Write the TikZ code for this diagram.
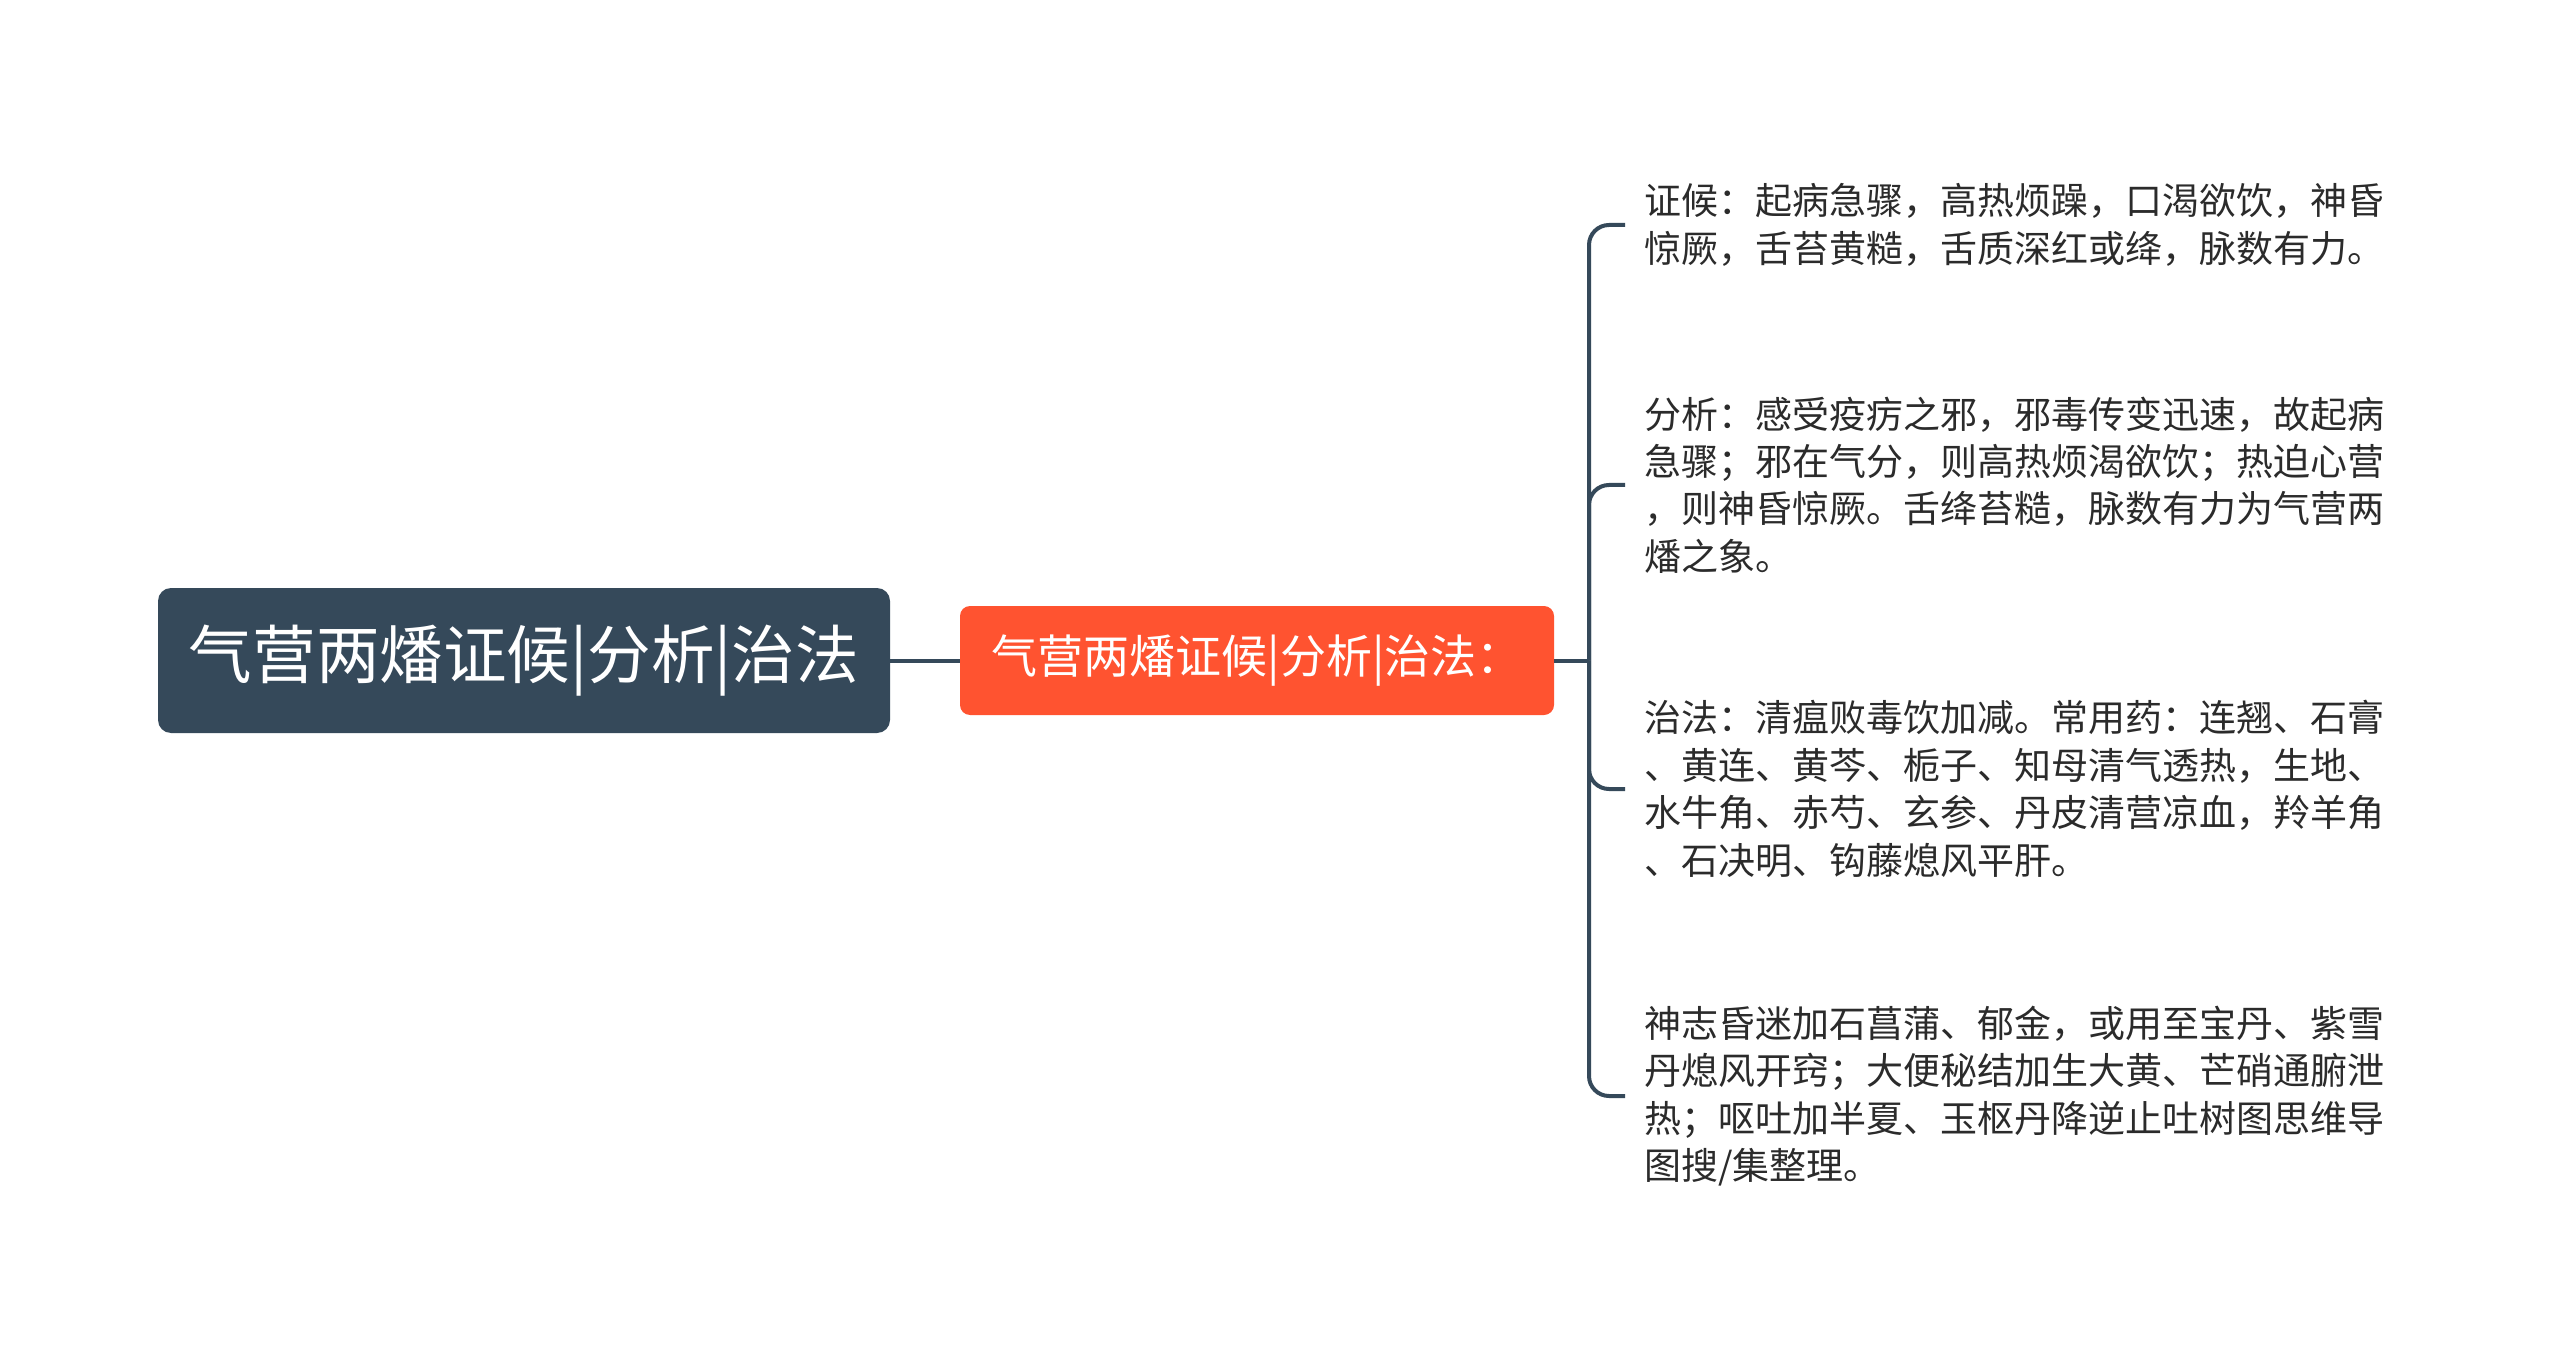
\documentclass[tikz,border=0pt]{standalone}
\usepackage{fontspec}
\setmainfont{Noto Sans CJK SC}
\definecolor{slate}{HTML}{35495A}
\definecolor{orangebox}{HTML}{FF5330}
\definecolor{leaftext}{HTML}{2B2B2B}
\tikzset{
  rootbox/.style={fill=slate, text=white, rounded corners=6.5pt, minimum width=366pt, minimum height=72.5pt, inner sep=0pt, font=\fontsize{31.8pt}{36pt}\selectfont},
  midbox/.style={fill=orangebox, text=white, rounded corners=5pt, minimum width=297pt, minimum height=54.5pt, inner sep=0pt, font=\fontsize{23pt}{26pt}\selectfont},
  leafbox/.style={anchor=west, align=left, inner xsep=9.5pt, inner ysep=0pt, text=leaftext, font=\fontsize{18.5pt}{23.7pt}\selectfont},
  link/.style={draw=slate, line width=2pt},
  branch/.style={draw=slate, line width=2pt, rounded corners=10pt}
}
\begin{document}
\begin{tikzpicture}[x=0.5pt,y=-0.5pt]
\useasboundingbox[fill=white] (0,0) rectangle (2560,1369);
\node[rootbox] (root) at (524,660.5) {气营两燔证候|分析|治法};
\node[midbox] (mid) at (1257,660.5) {气营两燔证候|分析|治法：};
\coordinate (J) at (1589,660.5);
\node[leafbox] (l1) at (1625,225) {证候：起病急骤，高热烦躁，口渴欲饮，神昏\\惊厥，舌苔黄糙，舌质深红或绛，脉数有力。};
\node[leafbox] (l2) at (1625,485) {分析：感受疫疠之邪，邪毒传变迅速，故起病\\急骤；邪在气分，则高热烦渴欲饮；热迫心营\\，则神昏惊厥。舌绛苔糙，脉数有力为气营两\\燔之象。};
\node[leafbox] (l3) at (1625,789) {治法：清瘟败毒饮加减。常用药：连翘、石膏\\、黄连、黄芩、栀子、知母清气透热，生地、\\水牛角、赤芍、玄参、丹皮清营凉血，羚羊角\\、石决明、钩藤熄风平肝。};
\node[leafbox] (l4) at (1625,1096) {神志昏迷加石菖蒲、郁金，或用至宝丹、紫雪\\丹熄风开窍；大便秘结加生大黄、芒硝通腑泄\\热；呕吐加半夏、玉枢丹降逆止吐树图思维导\\图搜/集整理。};
\draw[link] (root.east) -- (mid.west);
\draw[link] (mid.east) -- (J);
\draw[branch] (J) |- (l1.west);
\draw[branch] (J) |- (l2.west);
\draw[branch] (J) |- (l3.west);
\draw[branch] (J) |- (l4.west);
\end{tikzpicture}
\end{document}
